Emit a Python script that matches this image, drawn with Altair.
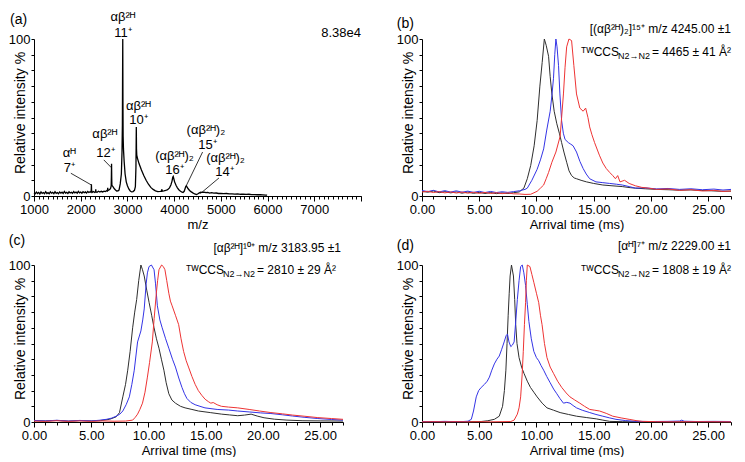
import altair as alt
import pandas as pd

FONT = "Liberation Sans"
W_A, W_R, H = 327, 309, 157
T_MAX = 27

# ---------------- (a) mass spectrum: (m/z, relative intensity %) ----------------
spectrum = [
    (1000, 2.0), (1025, 1.4), (1050, 2.5), (1075, 1.6), (1100, 2.3), (1125, 1.3), (1150, 2.6), (1175, 1.7),
    (1200, 2.2), (1225, 1.5), (1250, 2.7), (1275, 1.6), (1300, 2.1), (1325, 1.4), (1350, 2.6), (1375, 1.8),
    (1400, 2.3), (1425, 1.5), (1450, 2.8), (1475, 1.7), (1500, 2.2), (1525, 1.5), (1550, 2.6), (1575, 1.8),
    (1600, 2.4), (1625, 1.6), (1650, 2.9), (1675, 1.8), (1700, 2.3), (1725, 1.6), (1750, 2.7), (1775, 1.9),
    (1800, 2.4), (1825, 1.7), (1850, 2.8), (1875, 2.0), (1900, 2.5), (1925, 1.8), (1950, 2.9), (1975, 2.0),
    (2000, 2.5), (2025, 1.8), (2050, 2.8), (2075, 2.1), (2100, 2.6), (2125, 1.9), (2150, 2.9), (2175, 2.2),
    (2200, 2.7), (2220, 2.3), (2226, 4.5), (2229, 7.5), (2233, 3.5), (2250, 2.4), (2275, 2.9), (2300, 2.3),
    (2318, 2.8), (2322, 4.2), (2326, 2.6), (2350, 2.4), (2380, 3.0), (2410, 2.5), (2440, 3.0), (2470, 2.6),
    (2500, 3.1), (2530, 2.8), (2555, 3.4), (2570, 3.2), (2578, 5.2), (2585, 3.5), (2605, 3.8), (2625, 4.2),
    (2640, 5.0), (2652, 6.5), (2656, 12), (2660, 20.5), (2664, 11), (2668, 6.8), (2685, 6.2), (2700, 5.5),
    (2720, 4.6), (2745, 3.8), (2770, 3.2), (2800, 3.3), (2820, 3.8), (2846, 7.7), (2870, 14), (2884, 28),
    (2892, 45), (2896, 75), (2900, 100), (2904, 60), (2908, 38), (2915, 30), (2930, 22), (2950, 14),
    (2975, 9), (3000, 6.5), (3030, 4.5), (3060, 3.2), (3090, 2.6), (3120, 2.8), (3150, 3.6), (3170, 6),
    (3182, 18), (3186, 30), (3190, 44), (3194, 30), (3200, 26), (3215, 24), (3250, 20.5), (3300, 16.5),
    (3350, 13), (3400, 10), (3450, 7.5), (3500, 5.5), (3550, 4.2), (3600, 3.3), (3650, 2.8), (3700, 2.9),
    (3730, 3.1), (3738, 4.3), (3745, 3.0), (3780, 3.2), (3820, 3.5), (3860, 4.0), (3900, 5.2), (3930, 7.0),
    (3955, 9.5), (3970, 12), (3980, 12.5), (3990, 11.3), (4010, 9), (4040, 6.8), (4070, 5.2), (4100, 4),
    (4130, 3.2), (4160, 2.6), (4190, 2.2), (4215, 3.0), (4235, 4.8), (4250, 6.2), (4262, 6.5), (4275, 5.8),
    (4300, 4.6), (4330, 3.5), (4360, 2.8), (4400, 2.0), (4440, 1.3), (4480, 0.9), (4510, 1.4), (4540, 2.0),
    (4570, 2.4), (4600, 2.3), (4640, 2.5), (4680, 2.1), (4720, 2.3), (4760, 1.9), (4800, 2.1), (4850, 1.8),
    (4900, 1.9), (4950, 1.6), (5000, 1.7), (5060, 1.5), (5120, 1.6), (5180, 1.3), (5240, 1.4), (5300, 1.2),
    (5360, 1.3), (5420, 1.1), (5480, 1.2), (5540, 1.0), (5600, 1.1), (5660, 0.9), (5720, 0.9), (5780, 0.8),
    (5840, 0.8), (5900, 0.7), (5960, 0.6), (5990, 0.5),
]

# peak labels of (a): (text, m/z, %)
peak_labels = [
    ("αᴴ", 1755, 27.5), ("7⁺", 1755, 18),
    ("αβ²ᴴ", 2516, 39.5), ("12⁺", 2529, 27.5),
    ("αβ²ᴴ", 2905, 114), ("11⁺", 2905, 104),
    ("αβ²ᴴ", 3235, 57.5), ("10⁺", 3235, 48.5),
    ("(αβ²ᴴ)₂", 4008, 25.5), ("16⁺", 4008, 16.5),
    ("(αβ²ᴴ)₂", 4680, 42), ("15⁺", 4714, 32.7),
    ("(αβ²ᴴ)₂", 5101, 24.5), ("14⁺", 5080, 15),
]
# leader lines of (a): (m/z, %, m/z2, %2)
leaders = [
    (1789, 14.5, 2229, 7),
    (2494, 23, 2658, 18),
    (4609, 28, 4262, 6.7),
    (4960, 11.5, 4560, 1.5),
]

# ---------------- arrival time distributions: (ms, %) ----------------
b_black = [(0, 3.0), (0.5, 2.4), (1, 3.2), (1.5, 2.1), (2, 2.8), (2.5, 2.0), (3, 2.6), (3.5, 1.8), (4, 2.5),
           (4.5, 1.7), (5, 2.3), (5.5, 1.6), (6, 2.2), (6.5, 1.5), (7, 2.0), (7.5, 1.6), (8, 2.1), (8.5, 2.6),
           (8.9, 5), (9.2, 11), (9.5, 19.5), (9.8, 32), (10.06, 48), (10.3, 70), (10.5, 85), (10.69, 100),
           (10.85, 96), (11.06, 89), (11.2, 76), (11.35, 65), (11.55, 54), (11.78, 46), (12.0, 40), (12.2, 34),
           (12.4, 28), (12.64, 21.5), (12.85, 16), (13.07, 13), (13.3, 11.5), (13.5, 11), (13.9, 10), (14.37, 9),
           (15.0, 8), (15.8, 7), (16.6, 6.5), (17.5, 6), (18.2, 5.3), (18.65, 5), (19.5, 4.6), (20.5, 4.2),
           (21.5, 4.0), (22.5, 3.7), (23.5, 3.9), (24.4, 3.5), (25.3, 3.3), (26.2, 3.0), (27, 3.1)]
b_blue = [(0, 3.5), (0.5, 2.8), (1, 3.6), (1.5, 2.6), (2, 3.4), (2.5, 2.5), (3, 3.3), (3.5, 2.4), (4, 3.1),
          (4.5, 2.3), (5, 3.0), (5.5, 2.2), (6, 2.9), (6.5, 2.2), (7, 2.7), (7.5, 2.3), (8, 2.8), (8.5, 3.3),
          (9.0, 4.2), (9.2, 5), (9.6, 10), (10.06, 17), (10.35, 23), (10.63, 30), (10.9, 42), (11.2, 54),
          (11.35, 64), (11.49, 75), (11.6, 90), (11.7, 100), (11.8, 95), (11.93, 83), (12.05, 65), (12.2, 48),
          (12.35, 40), (12.5, 36), (12.79, 34), (13.0, 33), (13.2, 32), (13.5, 28), (13.8, 22), (14.08, 17.5),
          (14.35, 14), (14.65, 11), (15.2, 9), (15.8, 8.5), (16.4, 8), (17.0, 7.5), (17.5, 7), (18.1, 6),
          (18.65, 5), (19.5, 5.2), (20.5, 4.5), (21.5, 4.8), (22.5, 4.2), (23.5, 4.6), (24.5, 4.0), (25.5, 4.4),
          (26.3, 3.8), (27, 4.2)]
b_red = [(0, 2.5), (0.5, 3.0), (1, 2.2), (1.5, 2.8), (2, 2.0), (2.5, 2.6), (3, 1.9), (3.5, 2.5), (4, 1.8),
         (4.5, 2.4), (5, 1.7), (5.5, 2.3), (6, 1.6), (6.5, 2.1), (7, 1.5), (7.5, 2.0), (8, 1.4), (8.5, 1.3),
         (9, 1.0), (9.5, 1.1), (10.06, 3), (10.35, 5), (10.63, 7), (10.85, 11), (11.06, 15), (11.35, 21.5),
         (11.7, 28), (12.07, 38), (12.2, 50), (12.36, 65), (12.5, 82), (12.64, 95), (12.84, 100), (13.07, 99),
         (13.27, 83), (13.5, 65), (13.79, 56), (14.08, 54), (14.3, 56), (14.5, 50), (14.65, 44), (14.85, 39),
         (15.08, 34), (15.5, 26), (15.8, 21), (16.1, 17.5), (16.4, 15), (16.67, 13), (16.9, 11), (17.1, 13),
         (17.3, 9), (17.7, 10), (18.1, 8), (18.65, 6.5), (19.2, 5.5), (19.8, 5), (20.5, 4.2), (21.5, 4.5),
         (22.5, 3.6), (23.5, 4.0), (24.5, 3.2), (25.5, 3.6), (26.3, 2.9), (27, 3.2)]

c_black = [(0, 0.8), (1, 0.6), (2, 1.0), (3, 0.5), (4, 0.9), (5, 0.6), (5.8, 0.9), (6.6, 1.7), (7.18, 3.3),
           (7.47, 6), (7.76, 16), (8.0, 24), (8.19, 33), (8.4, 45), (8.62, 60), (8.8, 70), (8.97, 78), (9.15, 90),
           (9.34, 100), (9.48, 97), (9.63, 93), (9.85, 84), (10.06, 76), (10.28, 68), (10.49, 60), (10.7, 53),
           (10.92, 47), (11.13, 40), (11.35, 33), (11.55, 25), (11.78, 18), (12.05, 14), (12.36, 12), (12.8, 10),
           (13.2, 9), (13.8, 8), (14.37, 7), (15.4, 6), (16.4, 5), (17.1, 4.5), (17.8, 4), (18.4, 4.4),
           (18.97, 5), (19.5, 3.8), (20.1, 2.7), (21.0, 1.8), (22.1, 1.2), (23.5, 0.8), (25.0, 0.7), (27, 0.6)]
c_blue = [(0, 1.0), (1, 0.7), (2, 1.1), (3, 0.6), (4, 1.0), (5, 0.7), (5.7, 1.1), (6.32, 1.7), (6.8, 2.5),
          (7.18, 3.7), (7.5, 5), (7.76, 7), (8.05, 11), (8.33, 16), (8.55, 24), (8.76, 33), (9.05, 51),
          (9.34, 58), (9.5, 65), (9.63, 72), (9.8, 88), (9.91, 95), (10.05, 99), (10.26, 100), (10.49, 97),
          (10.62, 88), (10.78, 74), (11.0, 65), (11.2, 60), (11.5, 53), (11.78, 47), (12.1, 40), (12.36, 35),
          (12.65, 28), (12.93, 22), (13.15, 18), (13.36, 15), (13.7, 12.5), (14.08, 11), (14.5, 10),
          (14.94, 9), (16.0, 8), (17.0, 7.6), (17.8, 7), (18.8, 6.4), (19.8, 5.8), (20.7, 5.4), (21.7, 4.6),
          (22.6, 3.8), (23.6, 3), (24.8, 2.2), (26.0, 1.6), (27, 1.2)]
c_red = [(0, 0.6), (1, 0.4), (2, 0.8), (3, 0.4), (4, 0.7), (5, 0.4), (6, 0.7), (7, 0.5), (8.0, 0.6),
         (8.62, 1.2), (8.85, 3), (9.05, 5), (9.25, 8), (9.48, 12), (9.7, 19), (9.91, 28.6), (10.1, 38),
         (10.34, 51), (10.5, 66), (10.69, 82), (10.8, 90), (10.92, 97), (11.15, 100), (11.3, 99), (11.44, 97),
         (11.6, 90), (11.78, 82), (11.92, 77), (12.07, 74), (12.36, 68), (12.64, 62), (12.85, 53), (13.07, 45),
         (13.3, 39), (13.5, 35), (13.8, 29), (14.08, 24), (14.36, 20), (14.66, 17), (14.95, 14.5), (15.23, 13),
         (15.45, 12), (15.66, 12.4), (16.0, 11), (16.38, 10), (17.0, 9.5), (17.8, 9), (18.8, 8), (19.7, 7),
         (20.7, 6), (21.7, 5.2), (22.6, 4.4), (23.6, 3.7), (24.8, 2.8), (26.0, 2.2), (27, 1.7)]

d_black = [(0, 0.2), (1, 0.3), (2, 0.1), (3, 0.3), (4, 0.2), (5.17, 0.3), (5.75, 0.8), (6.32, 1.7),
           (6.75, 3.7), (7.04, 10), (7.2, 20), (7.33, 33), (7.43, 50), (7.53, 68), (7.62, 82), (7.7, 93),
           (7.82, 100), (7.99, 93), (8.1, 78), (8.19, 62), (8.3, 50), (8.48, 41), (8.7, 35), (8.91, 31),
           (9.2, 26), (9.48, 22), (9.77, 19), (10.06, 16), (10.5, 12), (10.92, 9), (11.5, 7.5), (12.07, 6),
           (12.8, 4.8), (13.5, 3.7), (14.4, 2.8), (15.23, 2), (15.8, 1.2), (16.4, 0.4), (17.5, 0.2), (19, 0.1),
           (21, 0.2), (23, 0.1), (25, 0.2), (27, 0.1)]
d_blue = [(0, 0.3), (1, 0.2), (2, 0.4), (3, 0.2), (3.6, 0.3), (4.02, 0.5), (4.31, 1.7), (4.5, 7), (4.74, 16),
          (4.95, 20), (5.17, 22), (5.46, 24), (5.7, 26), (5.89, 28.6), (6.1, 33), (6.32, 37), (6.55, 40),
          (6.75, 42), (6.95, 46), (7.18, 51), (7.35, 55), (7.47, 56), (7.6, 51), (7.76, 48), (7.9, 49),
          (8.05, 51), (8.2, 65), (8.33, 78), (8.48, 90), (8.62, 99), (8.76, 100), (8.9, 95), (9.05, 87),
          (9.2, 75), (9.34, 64), (9.55, 53), (9.77, 45), (10.0, 41), (10.2, 39), (10.4, 36), (10.63, 33),
          (10.9, 29), (11.2, 25), (11.5, 21), (11.78, 18), (12.05, 15), (12.36, 12), (12.65, 12.5), (12.93, 12),
          (13.2, 10.5), (13.5, 9), (14.0, 7.5), (14.66, 6), (15.2, 4.8), (15.8, 3.7), (16.4, 2.6), (16.95, 1.7),
          (17.8, 0.9), (18.68, 0.4), (20, 0.3), (21.5, 0.4), (22.5, 0.6), (22.7, 1.2), (22.9, 0.5), (24, 0.3),
          (25.5, 0.4), (27, 0.3)]
d_red = [(0, 0.1), (1, 0.2), (2, 0.1), (3, 0.2), (4, 0.1), (5, 0.2), (6, 0.1), (7, 0.2), (7.76, 0.3),
         (8.05, 1.2), (8.33, 5), (8.48, 9), (8.62, 16), (8.75, 30), (8.85, 45), (8.95, 62), (9.05, 76),
         (9.12, 90), (9.2, 100), (9.43, 99), (9.6, 94), (9.77, 89), (10.0, 82), (10.2, 76), (10.35, 68),
         (10.49, 62), (10.7, 50), (10.92, 41), (11.2, 35), (11.49, 31), (11.85, 26), (12.21, 22), (12.6, 18.5),
         (12.93, 16), (13.35, 14), (13.79, 12), (14.2, 10), (14.66, 8), (15.1, 7.5), (15.52, 7), (16.1, 5.5),
         (16.67, 3.7), (17.4, 2.6), (18.1, 1.7), (18.7, 0.9), (19.25, 0.4), (20.5, 0.2), (22, 0.1), (24, 0.2),
         (27, 0.1)]

trace_names = ["black", "blue", "red"]
trace_colors = ["#2e2e2e", "#3434e6", "#ee3434"]

# panel annotations
b_title = "[(αβ²ᴴ)₂]¹⁵⁺ m/z  4245.00 ±1"
c_title = "[αβ²ᴴ]¹⁰⁺ m/z 3183.95 ±1"
d_title = "[αᴴ]⁷⁺ m/z 2229.00 ±1"
b_ccs = "= 4465 ± 41 Å²"
c_ccs = "= 2810 ± 29 Å²"
d_ccs = "= 1808 ± 19 Å²"

# tick values
t_major = list(range(0, 26, 5))
t_minor = list(range(0, T_MAX + 1))
mz_major = list(range(1000, 8001, 1000))
mz_minor = list(range(1000, 8001, 100))
y_ticks = list(range(0, 101, 10))

# ---------------- shared pieces ----------------
y_scale = alt.Scale(domain=[0, 100], nice=False, zero=False)
t_scale = alt.Scale(domain=[0, T_MAX], nice=False, zero=False)
mz_scale = alt.Scale(domain=[1000, 8000], nice=False, zero=False)

Y_AXIS = alt.Axis(values=y_ticks,
                  labelExpr="(datum.value == 0 || datum.value == 100) ? datum.label : ''",
                  title="Relative intensity %", titleX=-7, titleY=H / 2 - 5,
                  tickSize=3, labelPadding=1, labelOverlap=False, labelFlush=False,
                  labelFontSize=13, titleFontSize=14, titleFontWeight="normal",
                  labelFont=FONT, titleFont=FONT, grid=False)


def major_axis(values, fmt, expr, title):
    return alt.Axis(values=values, format=fmt, labelExpr=expr, tickSize=5, labelPadding=2,
                    labelFlush=False, labelOverlap=False, title=title, titlePadding=2,
                    labelFontSize=13, titleFontSize=13, titleFontWeight="normal",
                    labelFont=FONT, titleFont=FONT, grid=False, orient="bottom")


def minor_axis(values):
    return alt.Axis(values=values, tickSize=3, labels=False, title=None, domain=False,
                    grid=False, orient="bottom")


T_MAJOR = major_axis(t_major, ".2f", "datum.label", "Arrival time (ms)")
T_MINOR = minor_axis(t_minor)
MZ_MAJOR = major_axis(mz_major, "d", "datum.value < 8000 ? datum.label : ''", "m/z")
MZ_MINOR = minor_axis(mz_minor)


def xenc(field, scale, axis):
    return alt.X(f"{field}:Q", scale=scale, axis=axis)


def yenc():
    return alt.Y("v:Q", scale=y_scale, axis=Y_AXIS)


def texts(rows, xfield, xscale, xaxis, **kw):
    df = pd.DataFrame(rows, columns=["text", xfield, "v"])
    return alt.Chart(df).mark_text(font=FONT, color="black", baseline="middle", **kw).encode(
        x=xenc(xfield, xscale, xaxis), y=yenc(), text="text:N")


# ---------------- panel (a) ----------------
spec_df = pd.DataFrame(spectrum, columns=["mz", "v"])
a_line = alt.Chart(spec_df).mark_line(color="black", strokeWidth=1.3).encode(
    x=xenc("mz", mz_scale, MZ_MAJOR), y=yenc())
lead_df = pd.DataFrame(leaders, columns=["mz", "v", "mz2", "v2"])
a_rules = alt.Chart(lead_df).mark_rule(color="black", strokeWidth=0.8).encode(
    x=xenc("mz", mz_scale, MZ_MINOR), y=yenc(), x2="mz2:Q", y2="v2:Q")
a_peaks = texts(peak_labels, "mz", mz_scale, None, fontSize=13, align="center")
a_int = texts([("8.38e4", 8000, 104)], "mz", mz_scale, None, fontSize=13, align="right")
a_tag = texts([("(a)", 486, 111.8)], "mz", mz_scale, None, fontSize=14, align="left")
panel_a = alt.layer(a_line, a_rules, a_peaks, a_int, a_tag).properties(
    width=W_A, height=H).resolve_axis(x="independent")


# ---------------- ATD panels ----------------
def atd_panel(traces, tag, tag_y, title, title_y, title_dx, ccs, ccs_y, ccs_dx, w):
    rows = []
    for name, pts in zip(trace_names, traces):
        for t, v in pts:
            rows.append({"t": t, "v": v, "trace": name})
    df = pd.DataFrame(rows)
    lines = alt.Chart(df).mark_line(strokeWidth=1).encode(
        x=xenc("t", t_scale, T_MAJOR), y=yenc(),
        color=alt.Color("trace:N", scale=alt.Scale(domain=trace_names, range=trace_colors), legend=None),
    )
    tag_l = texts([(tag, -2.2, tag_y)], "t", t_scale, T_MINOR, fontSize=14, align="left")
    title_l = texts([(title, T_MAX, title_y)], "t", t_scale, None, fontSize=12, align="right", dx=title_dx)
    ccs_l = texts([(ccs, T_MAX, ccs_y)], "t", t_scale, None, fontSize=12, align="right", dx=ccs_dx)
    sub_l = texts([("N2→N2", T_MAX, ccs_y)], "t", t_scale, None, fontSize=9, align="right",
                  dx=ccs_dx - 81, dy=4)
    tw_l = texts([("ᵀᵂCCS", T_MAX, ccs_y)], "t", t_scale, None, fontSize=12, align="right",
                 dx=ccs_dx - 112)
    return alt.layer(lines, tag_l, title_l, ccs_l, sub_l, tw_l).properties(
        width=w, height=H).resolve_axis(x="independent")


panel_b = atd_panel([b_black, b_blue, b_red], "(b)", 109.5, b_title, 106.5, 0, b_ccs, 92, 0, W_R)
panel_c = atd_panel([c_black, c_blue, c_red], "(c)", 115.5, c_title, 111, -2, c_ccs, 97, -7, W_R)
panel_d = atd_panel([d_black, d_blue, d_red], "(d)", 112, d_title, 112, 0, d_ccs, 97, 0, W_R)

chart = alt.concat(
    panel_a, panel_b, panel_c, panel_d,
    columns=2, spacing={"row": 69, "column": 61}, bounds="flush",
    padding={"top": 3, "left": 0, "right": 0, "bottom": 0}, background="white",
).configure_view(stroke=None).configure_axis(
    grid=False, labelColor="black", titleColor="black",
    domainColor="black", tickColor="black", domainWidth=1, tickWidth=1,
)

chart.save("out.html", embed_options={"renderer": "svg", "actions": False})
